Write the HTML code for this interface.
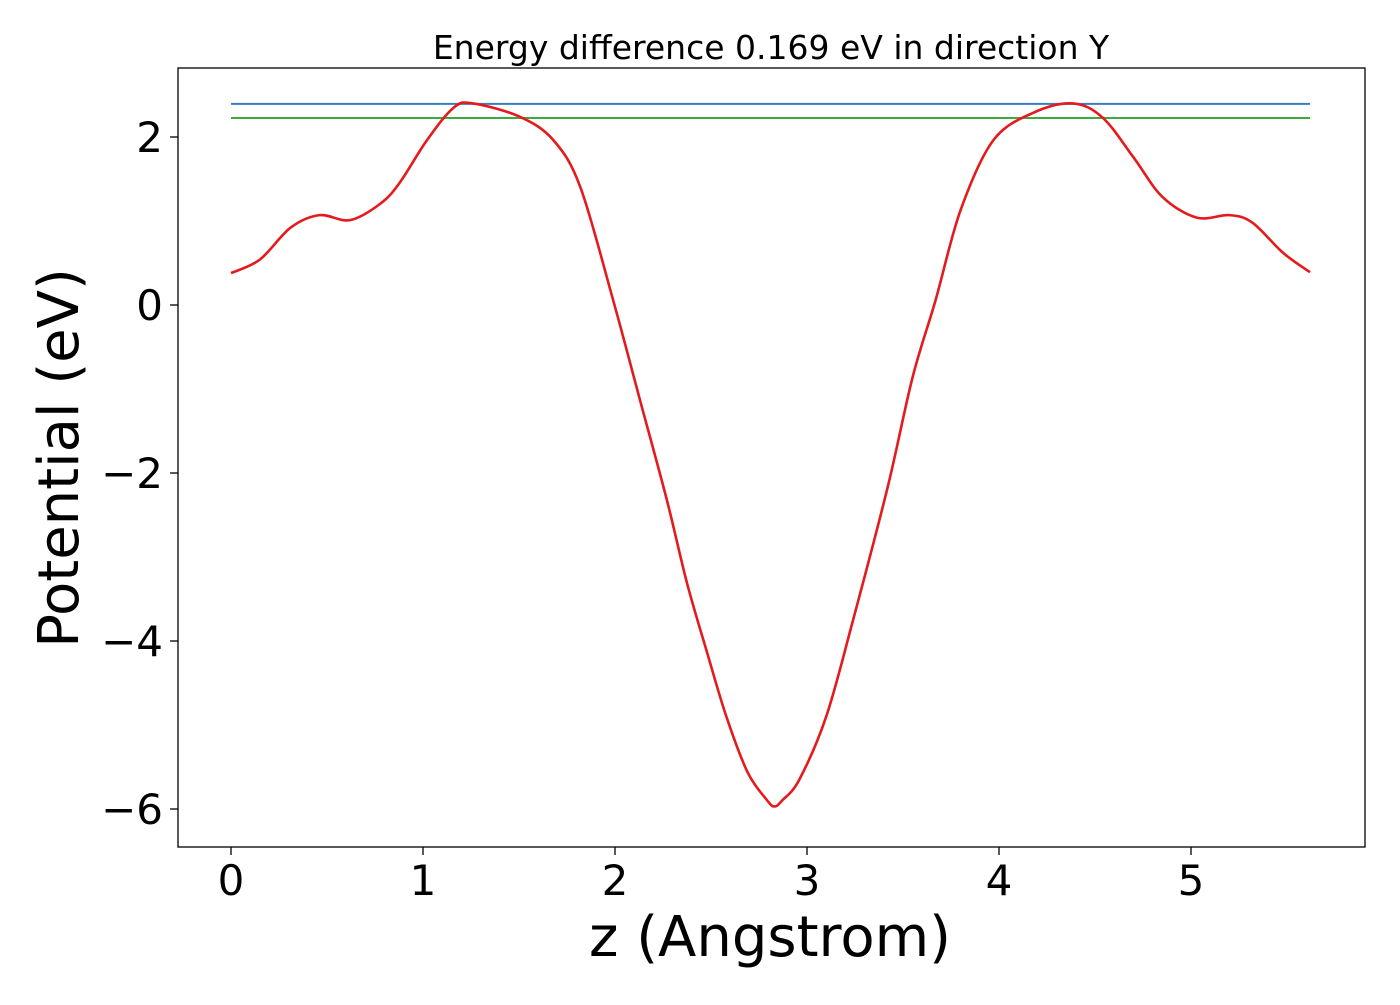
<!DOCTYPE html>
<html><head><meta charset="utf-8"><style>
html,body{margin:0;padding:0;background:#fff;}
svg text{font-family:"DejaVu Sans","Liberation Sans",sans-serif;fill:#000;}
</style></head><body>
<svg id="chart" width="1400" height="1000" viewBox="0 0 1400 1000" xmlns="http://www.w3.org/2000/svg">
<rect x="0" y="0" width="1400" height="1000" fill="#fff"/>
<text x="771" y="59" font-size="33" text-anchor="middle">Energy difference 0.169 eV in direction Y</text>
<g id="plot"></g>
<g id="xticks"></g>
<g id="yticks"></g>
<rect x="178" y="68" width="1187" height="779" fill="none" stroke="#000" stroke-width="1.3"/>
<text x="770" y="956" font-size="56" text-anchor="middle">z (Angstrom)</text>
<text transform="translate(78,458) rotate(-90)" font-size="56" text-anchor="middle">Potential (eV)</text>
</svg>
<script>
const zValues = [0,0.15,0.31,0.46,0.62,0.78,0.88,1.02,1.16,1.26,1.505,1.68,1.82,1.99,2.13,2.27,2.375,2.48,2.58,2.69,2.79,2.83,2.87,2.96,3.10,3.24,3.42,3.55,3.67,3.80,3.97,4.18,4.385,4.54,4.70,4.85,5.03,5.20,5.32,5.48,5.62];
const potential = [0.38,0.54,0.92,1.07,1.01,1.21,1.46,1.96,2.35,2.40,2.24,1.96,1.40,0.06,-1.13,-2.32,-3.31,-4.14,-4.9,-5.56,-5.89,-5.97,-5.9,-5.65,-4.9,-3.75,-2.17,-0.86,0.06,1.13,1.96,2.29,2.40,2.23,1.76,1.29,1.04,1.07,0.98,0.62,0.39];
const upperLevel = 2.395;
const lowerLevel = 2.226;
const xTickValues = [0,1,2,3,4,5];
const yTickValues = [2,0,-2,-4,-6];
const xMin = 0, xMax = 5.62;

const NS = "http://www.w3.org/2000/svg";
function sx(v){ return 231 + v*192; }
function sy(v){ return 305 - v*84; }
const plot = document.getElementById('plot');

function hline(v, color, name){
  const l = document.createElementNS(NS,'line');
  l.setAttribute('x1', sx(xMin)); l.setAttribute('x2', sx(xMax));
  l.setAttribute('y1', sy(v)); l.setAttribute('y2', sy(v));
  l.setAttribute('stroke', color); l.setAttribute('stroke-width', '2');
  
  
  plot.appendChild(l);
}
hline(upperLevel, '#3a7dc0', 'upper-level-line');
hline(lowerLevel, '#3daa3d', 'lower-level-line');

// Catmull-Rom smoothed path
const pts = zValues.map((z,i)=>[sx(z), sy(potential[i])]);
let d = 'M' + pts[0][0] + ' ' + pts[0][1];
for (let i=0;i<pts.length-1;i++){
  const p0 = pts[Math.max(i-1,0)], p1 = pts[i], p2 = pts[i+1], p3 = pts[Math.min(i+2,pts.length-1)];
  const c1x = p1[0] + (p2[0]-p0[0])/6, c1y = p1[1] + (p2[1]-p0[1])/6;
  const c2x = p2[0] - (p3[0]-p1[0])/6, c2y = p2[1] - (p3[1]-p1[1])/6;
  d += ` C${c1x} ${c1y} ${c2x} ${c2y} ${p2[0]} ${p2[1]}`;
}
const path = document.createElementNS(NS,'path');
path.setAttribute('d', d);
path.setAttribute('fill','none');
path.setAttribute('stroke','#e41a1c');
path.setAttribute('stroke-width','2.6');


plot.appendChild(path);

const xg = document.getElementById('xticks');
xTickValues.forEach(v=>{
  const t = document.createElementNS(NS,'line');
  t.setAttribute('x1', sx(v)); t.setAttribute('x2', sx(v));
  t.setAttribute('y1', 847); t.setAttribute('y2', 855);
  t.setAttribute('stroke','#000'); t.setAttribute('stroke-width','1.3');
  
  
  xg.appendChild(t);
  const tx = document.createElementNS(NS,'text');
  tx.setAttribute('x', sx(v)); tx.setAttribute('y', 895);
  tx.setAttribute('font-size','42'); tx.setAttribute('text-anchor','middle');
  tx.textContent = String(v);
  
  
  xg.appendChild(tx);
});
const yg = document.getElementById('yticks');
yTickValues.forEach(v=>{
  const t = document.createElementNS(NS,'line');
  t.setAttribute('x1', 170); t.setAttribute('x2', 178);
  t.setAttribute('y1', sy(v)); t.setAttribute('y2', sy(v));
  t.setAttribute('stroke','#000'); t.setAttribute('stroke-width','1.3');
  
  
  yg.appendChild(t);
  const tx = document.createElementNS(NS,'text');
  tx.setAttribute('x', 163); tx.setAttribute('y', sy(v)+15);
  tx.setAttribute('font-size','42'); tx.setAttribute('text-anchor','end');
  tx.textContent = v < 0 ? '\u2212' + Math.abs(v) : String(v);
  
  
  yg.appendChild(tx);
});
</script>
</body></html>
